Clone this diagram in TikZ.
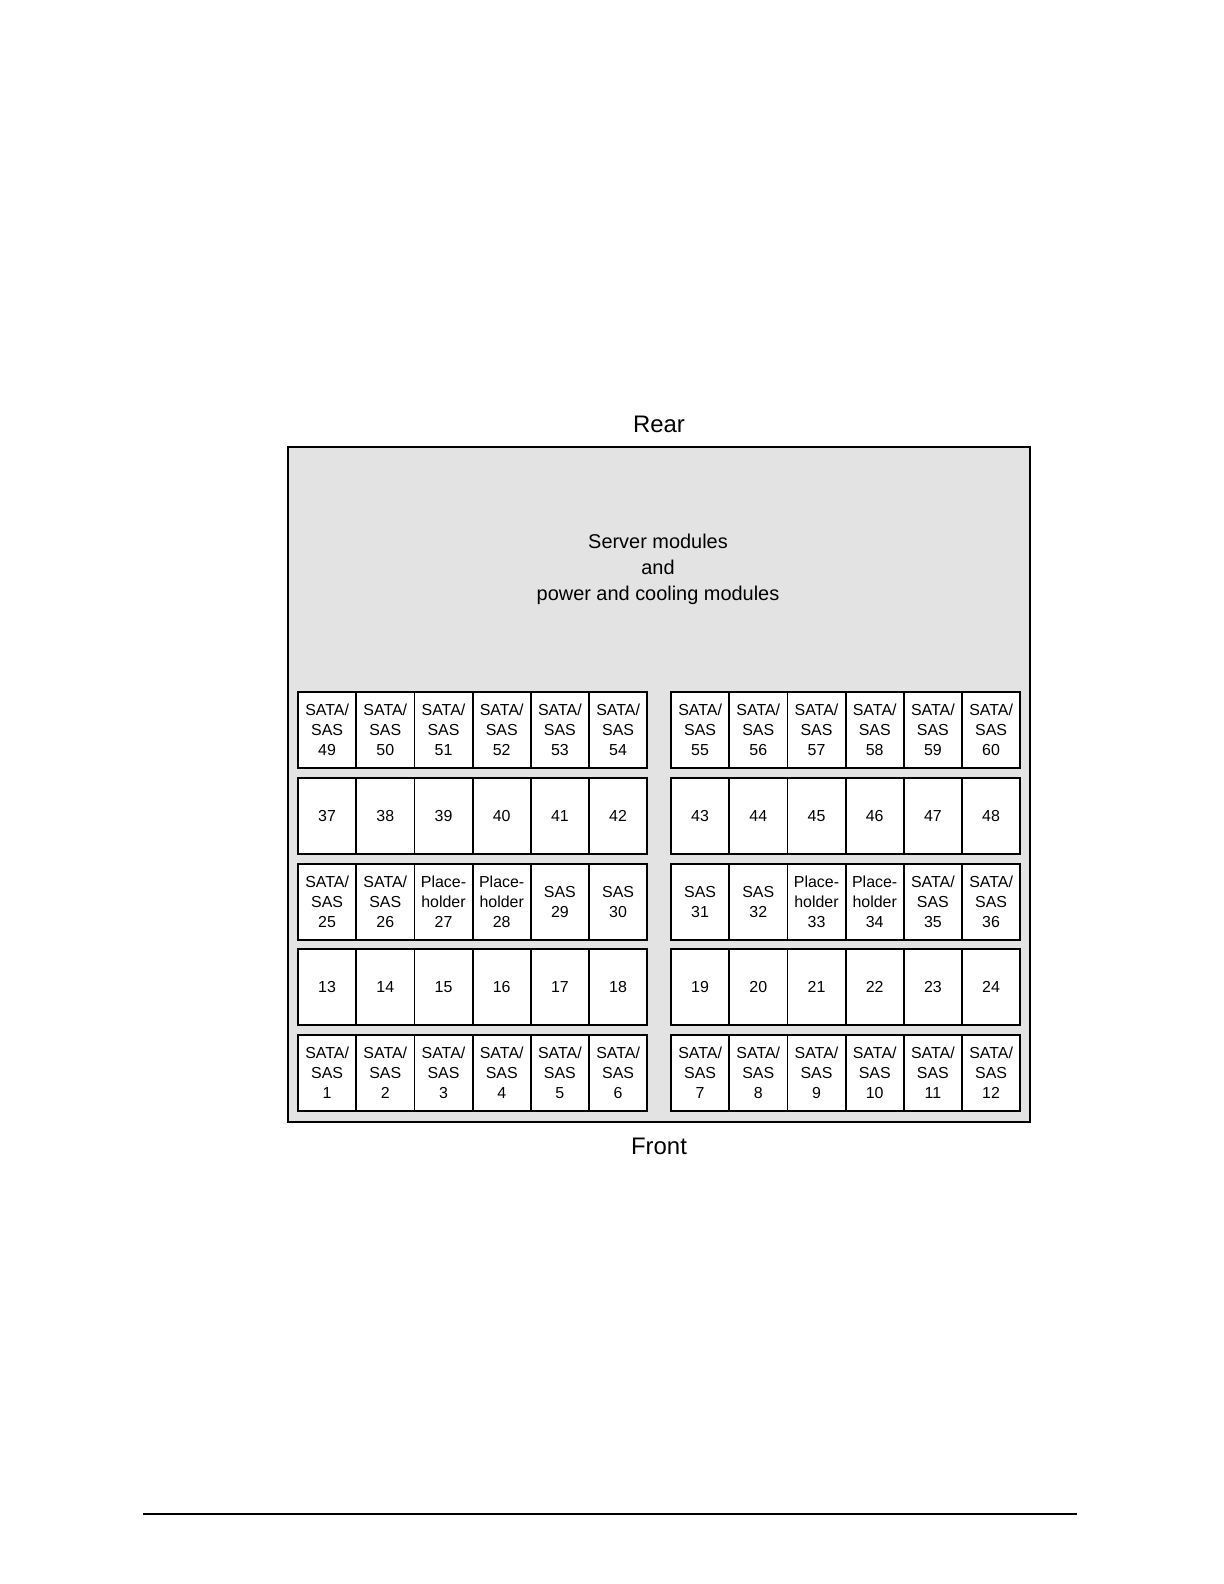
\documentclass[tikz,border=0pt]{standalone}
\usepackage{fontspec}
\setmainfont{Liberation Sans}
\usetikzlibrary{positioning}
\definecolor{chassisgray}{HTML}{E3E3E3}
\newcommand{\satasas}{SATA/\\SAS}
\newcommand{\placeh}{Place-\\holder}

\begin{document}
\begin{tikzpicture}[x=0.5bp,y=-0.5bp]
\tikzstyle{every node}+=[inner sep=0pt]
\tikzstyle{bay}=[draw=black,fill=white,line width=0.9bp,minimum width=29.1bp,minimum height=38bp,align=center,font=\fontsize{8}{10}\selectfont]
\useasboundingbox (0,0) rectangle (1224,1584);
\node (chassis) [draw=black,fill=chassisgray,line width=1bp,minimum width=371bp,minimum height=337.5bp] at (659,784.5) {};
\node (rear) at (659,424) {\fontsize{12}{14}\selectfont Rear};
\node (front) at (659,1146) {\fontsize{12}{14}\selectfont Front};
\node (modules) [align=center,font=\fontsize{10}{13}\selectfont] at (658,569) {Server modules\\and\\power and cooling modules};
% SATA/SAS 49-60
\foreach \k in {0,...,11} {
  \pgfmathtruncatemacro{\n}{49+\k}
  \pgfmathsetmacro{\xx}{\k<6 ? 327.1+58.2*\k : 700.1+58.2*(\k-6)}
  \node (bay\n) [bay] at (\xx,730) {\satasas\\\n};
}
% 37-48
\foreach \k in {0,...,11} {
  \pgfmathtruncatemacro{\n}{37+\k}
  \pgfmathsetmacro{\xx}{\k<6 ? 327.1+58.2*\k : 700.1+58.2*(\k-6)}
  \node (bay\n) [bay] at (\xx,816) {\n};
}
% 25-36
\foreach \k/\t in {0/\satasas,1/\satasas,2/\placeh,3/\placeh,4/SAS,5/SAS,6/SAS,7/SAS,8/\placeh,9/\placeh,10/\satasas,11/\satasas} {
  \pgfmathtruncatemacro{\n}{25+\k}
  \pgfmathsetmacro{\xx}{\k<6 ? 327.1+58.2*\k : 700.1+58.2*(\k-6)}
  \node (bay\n) [bay] at (\xx,902) {\t\\\n};
}
% 13-24
\foreach \k in {0,...,11} {
  \pgfmathtruncatemacro{\n}{13+\k}
  \pgfmathsetmacro{\xx}{\k<6 ? 327.1+58.2*\k : 700.1+58.2*(\k-6)}
  \node (bay\n) [bay] at (\xx,987) {\n};
}
% SATA/SAS 1-12
\foreach \k in {0,...,11} {
  \pgfmathtruncatemacro{\n}{1+\k}
  \pgfmathsetmacro{\xx}{\k<6 ? 327.1+58.2*\k : 700.1+58.2*(\k-6)}
  \node (bay\n) [bay] at (\xx,1073) {\satasas\\\n};
}
\draw [black,line width=0.8bp] (143,1514) -- (1077,1514);
\end{tikzpicture}
\end{document}
